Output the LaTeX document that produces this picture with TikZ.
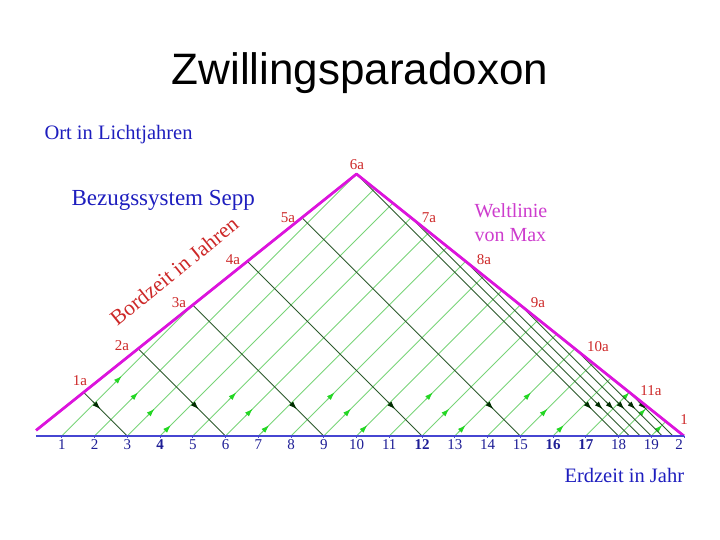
\documentclass[tikz,border=0pt]{standalone}
\usepackage{fontspec}
\setmainfont{Liberation Serif}
\newfontfamily\titlefont{Liberation Sans}
\usetikzlibrary{arrows.meta}
\definecolor{sigE}{RGB}{120,212,120}
\definecolor{sigM}{RGB}{45,90,45}
\definecolor{arrE}{RGB}{35,215,35}
\definecolor{arrM}{RGB}{0,45,0}
\definecolor{wl}{RGB}{220,20,220}
\definecolor{wltext}{RGB}{205,60,205}
\definecolor{lbl}{RGB}{205,40,40}
\definecolor{axblue}{RGB}{70,70,210}
\definecolor{numblue}{RGB}{30,30,150}
\definecolor{txtblue}{RGB}{30,30,190}
\tikzset{
  earthsig/.style={sigE, line width=0.9pt},
  maxsig/.style={sigM, line width=0.85pt},
  earthtip/.style={sigE, line width=0.9pt, -{Latex[length=8pt,width=5.5pt,color=arrE]}},
  maxtip/.style={sigM, line width=0.85pt, -{Latex[length=8pt,width=5.5pt,color=arrM]}},
  worldline/.style={wl, line width=2.8pt, line join=round},
  axisline/.style={axblue, line width=1.3pt},
  ticklbl/.style={numblue, font=\fontsize{15}{17}\selectfont, anchor=base},
  agelbl/.style={lbl, font=\fontsize{15}{17}\selectfont},
}
\begin{document}
\begin{tikzpicture}[x=1pt,y=-1pt]
\useasboundingbox (0,0) rectangle (720,540);
\node[anchor=base, font=\titlefont\fontsize{44}{50}\selectfont] (title) at (360,85) {Zwillingsparadoxon};
\node[anchor=base west, txtblue, font=\fontsize{20.5}{24}\selectfont] (ort) at (41,140) {Ort in Lichtjahren};
\node[anchor=base west, txtblue, font=\fontsize{23}{27}\selectfont] (sepp) at (68,206) {Bezugssystem Sepp};
\node[anchor=base west, wltext, font=\fontsize{20}{24}\selectfont] (wl1) at (471,218) {Weltlinie};
\node[anchor=base west, wltext, font=\fontsize{20}{24}\selectfont] (wl2) at (471,241) {von Max};
\node[anchor=base west, txtblue, font=\fontsize{20.5}{24}\selectfont] (erd) at (561,482) {Erdzeit in Jahr};
\node[lbl, rotate=39, font=\fontsize{21.5}{26}\selectfont] (bord) at (174,271) {Bordzeit in Jahren};

\begin{scope}[shift={(29,436)}, x=32.75pt, y=32.75pt]
  \coordinate (O) at (0.2137,0.171);
  \coordinate (A0) at (0.2137,0);
  \foreach \t in {1,...,20} \coordinate (E\t) at (\t,0);
  % signals sent from Earth every year
  \foreach \a in {1,...,19}{
    \pgfmathsetmacro\te{\a<3 ? 5*\a : (16+\a)/1.8}
    \pgfmathsetmacro\xe{\a<3 ? 4*\a : \te-\a}
    \coordinate (G\a) at (\te,\xe);
    \draw[earthsig] (E\a) -- (G\a);
    \pgfmathsetmacro\cc{4.5+3*max(0,floor((\a-2)/3))}
    \pgfmathsetmacro\hh{(\cc-\a)/2}
    \coordinate (Ga\a) at ({\a+\hh+0.08},{\hh+0.08});
    \coordinate (Gb\a) at ({\a+\hh-0.15},{\hh-0.15});
    \draw[earthtip] (Gb\a) -- (Ga\a);
  }
  % signals sent by Max every year of proper time
  \foreach \s in {1,...,11}{
    \pgfmathsetmacro\tm{\s<7 ? 5*\s/3 : 10+5*(\s-6)/3}
    \pgfmathsetmacro\xm{\s<7 ? 4*\s/3 : 8-4*(\s-6)/3}
    \pgfmathsetmacro\cm{\tm+\xm}
    \coordinate (M\s) at (\tm,\xm);
    \coordinate (R\s) at (\cm,0);
    \draw[maxsig] (M\s) -- (R\s);
    \coordinate (Ma\s) at ({\cm-0.82},0.82);
    \coordinate (Mb\s) at ({\cm-1.05},1.05);
    \draw[maxtip] (Mb\s) -- (Ma\s);
  }
  \coordinate (top) at (10,8);
  \draw[worldline] (O) -- (top) -- (E20);
  \draw[axisline] (A0) -- (E20);
  \foreach \t in {1,...,20} \draw[axblue, line width=1pt] (E\t) -- ++(0,-0.07);
  \foreach \t in {1,2,3,5,6,7,8,9,10,11,13,14,15,18,19}
    \node[ticklbl] (n\t) at (\t,-0.41) {\t};
  \foreach \t in {4,12,16,17}
    \node[ticklbl, font=\fontsize{15}{17}\selectfont\bfseries] (n\t) at (\t,-0.41) {\t};
  \node[ticklbl] (n20) at (19.85,-0.41) {2};
\end{scope}

\foreach \lab/\px/\py in {1a/80/381, 2a/122/346, 3a/179/303, 4a/233/260, 5a/288/218, 6a/357/165, 7a/429/218, 8a/484/260, 9a/538/303, 10a/598/347, 11a/651/391, 1/684/420}
  \node[agelbl] (L\lab) at (\px,\py) {\lab};
\end{tikzpicture}
\end{document}
